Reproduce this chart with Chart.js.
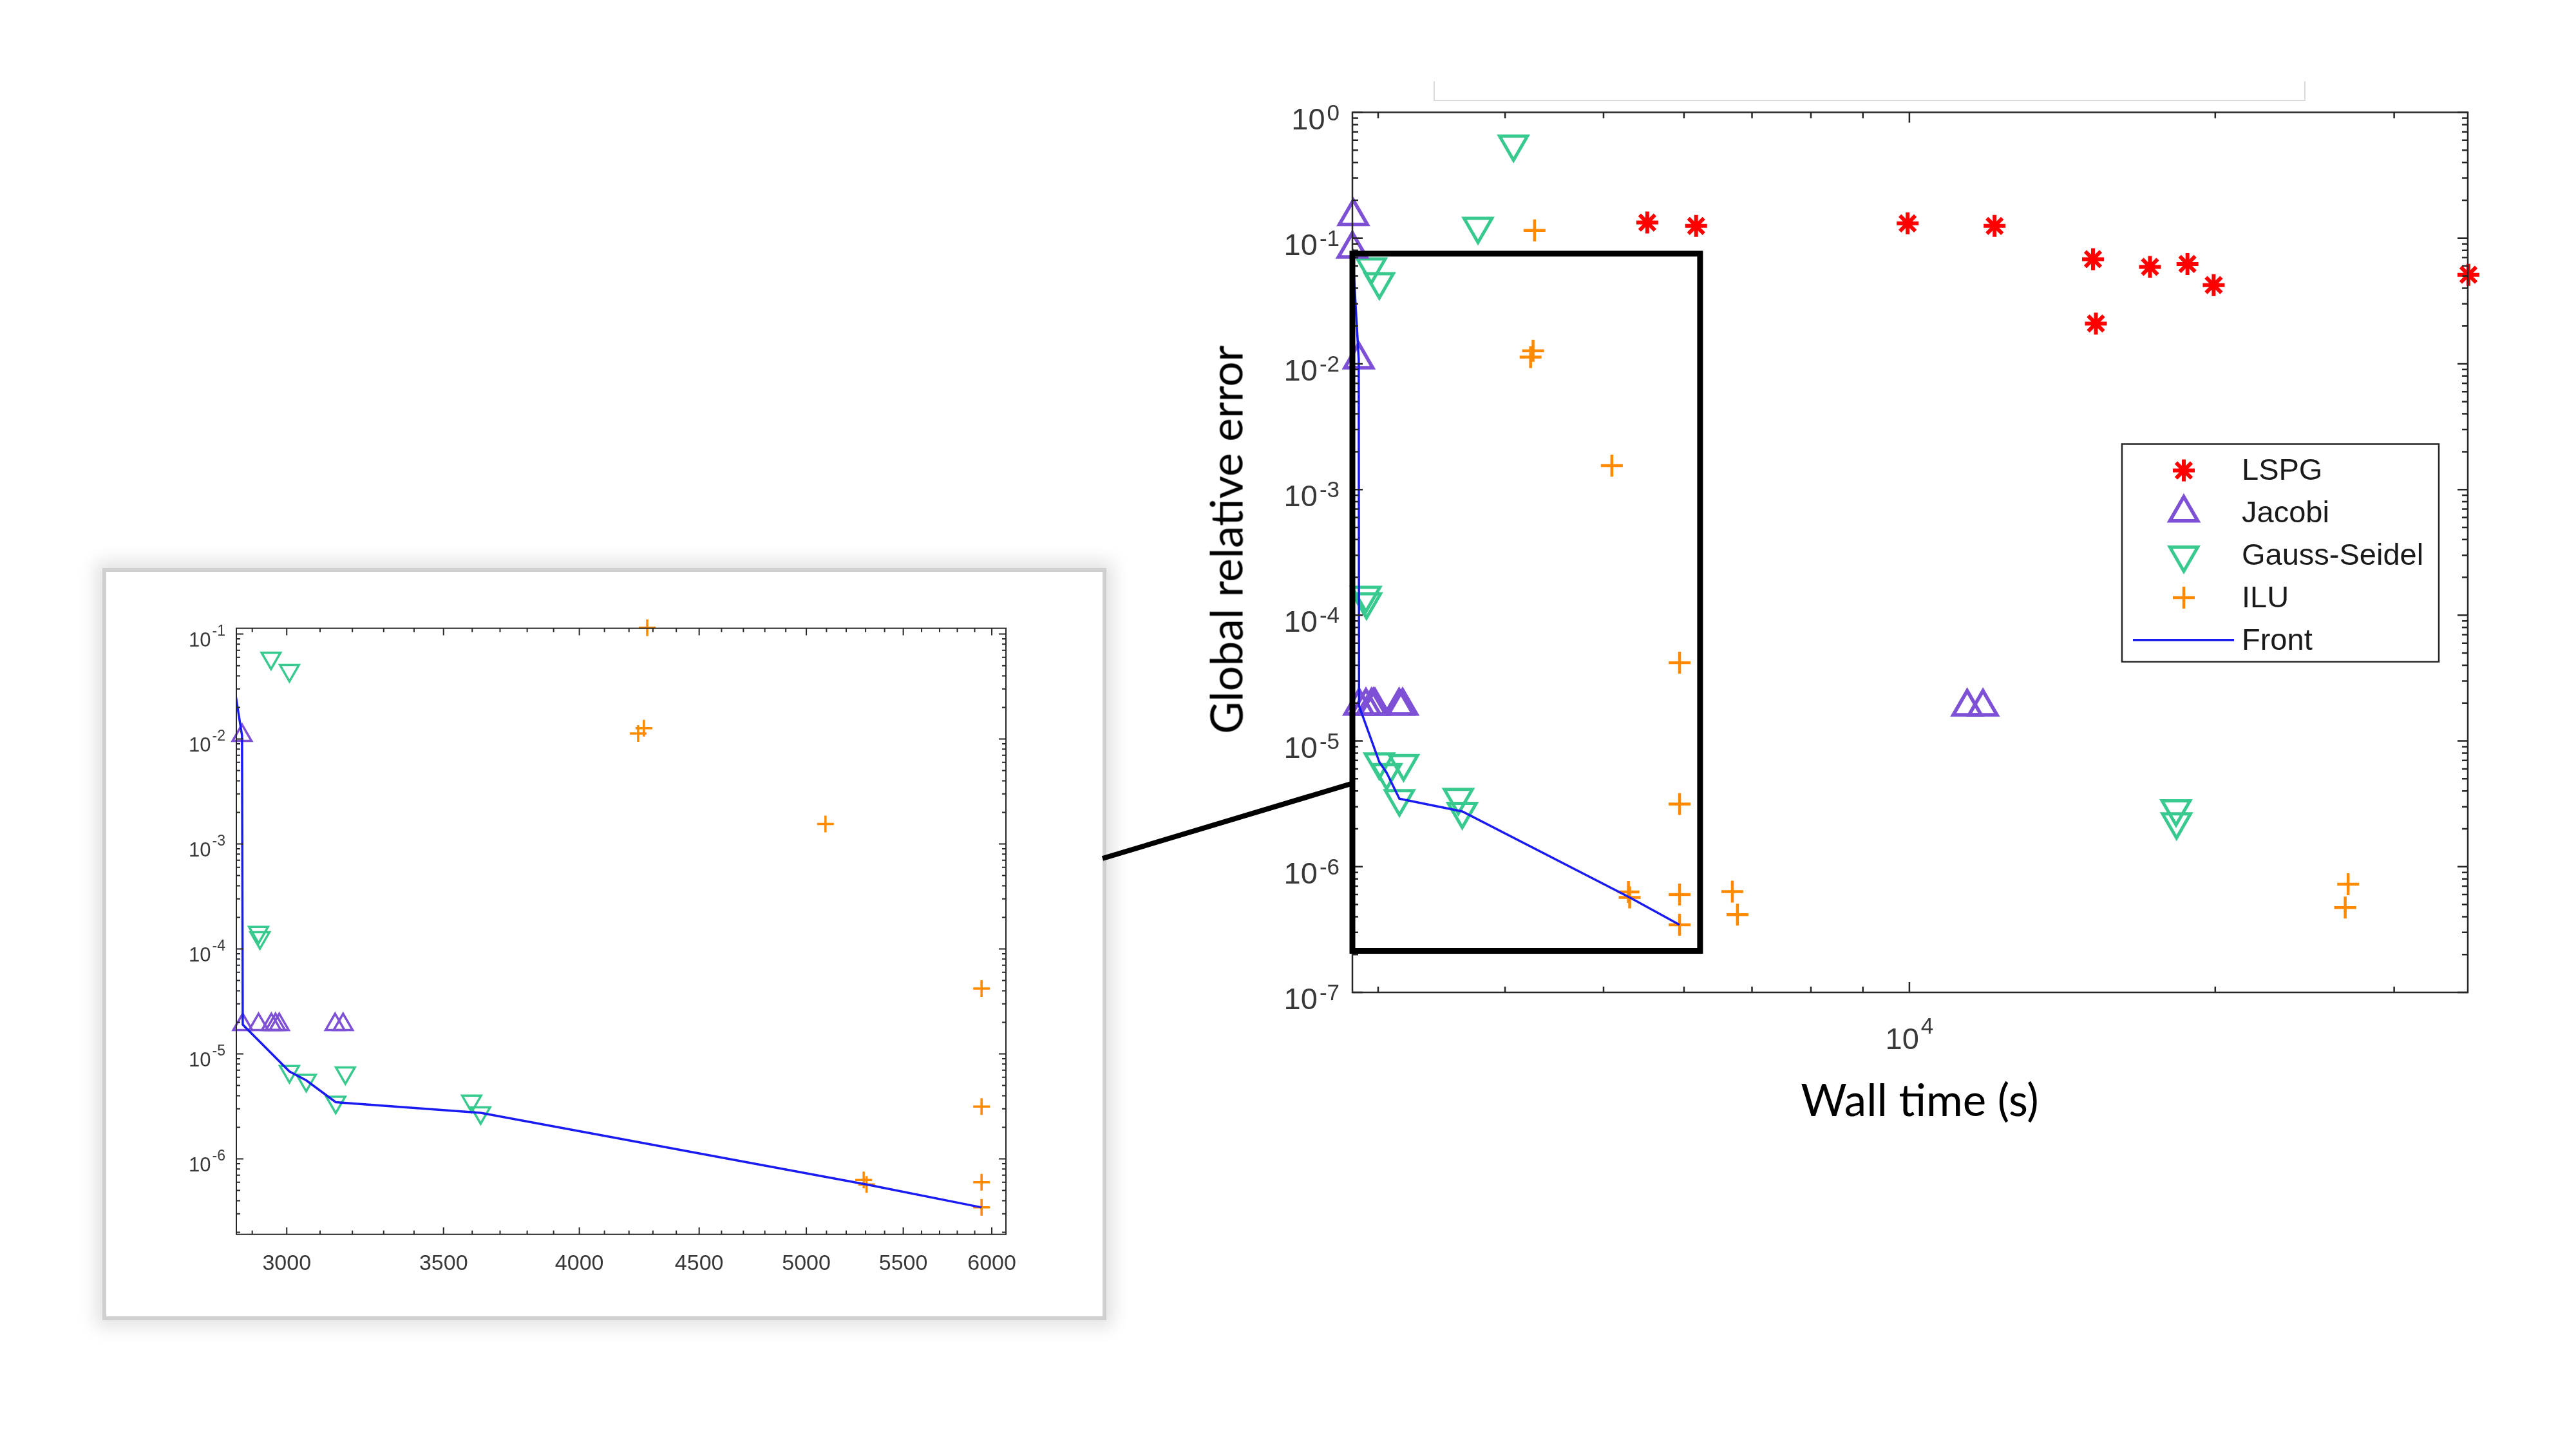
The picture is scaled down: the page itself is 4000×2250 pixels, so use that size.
<!DOCTYPE html>
<html>
<head>
<meta charset="utf-8">
<title>Global relative error vs wall time</title>
<script src="https://cdn.jsdelivr.net/npm/chart.js@4.4.1/dist/chart.umd.min.js"></script>
<style>
  html, body { margin: 0; padding: 0; background: #ffffff; }
  body { position: relative; width: 4000px; height: 2250px; overflow: hidden; }
  canvas { display: block; }
  #mainChart { position: absolute; left: 1800px; top: 60px; }
  #insetPanel {
    position: absolute; left: 165px; top: 888px; width: 1547px; height: 1156px;
    background: #ffffff;
    box-shadow: 0 0 0 6px #d0d0d0, 0 0 26px 16px rgba(0, 0, 0, 0.12);
  }
  #insetChart { position: absolute; left: 0; top: 0; }
  #topBracket {
    position: absolute; left: 2226px; top: 126px; width: 1350px; height: 29px;
    border: 2px solid #dadada; border-top: none;
  }
  .axisTitle {
    position: absolute; font-family: Lato, "Open Sans", sans-serif; font-size: 69px;
    color: #000; white-space: nowrap; line-height: 1;
  }
  #xTitle { left: 2981px; top: 1706px; transform: translate(-50%, -50%); }
  #yTitle { left: 1903px; top: 838px; transform: translate(-50%, -50%) rotate(-90deg); }
  #connector { position: absolute; left: 0; top: 0; pointer-events: none; }
</style>
</head>
<body>
<div id="topBracket"></div>
<div id="insetPanel"><canvas id="insetChart" width="1547" height="1156"></canvas></div>
<svg id="connector" width="4000" height="2250"><line x1="1712" y1="1333" x2="2098" y2="1217" stroke="#000" stroke-width="8"/></svg>
<canvas id="mainChart" width="2150" height="1620"></canvas>
<div class="axisTitle" id="yTitle">Global relative error</div>
<div class="axisTitle" id="xTitle">Wall time (s)</div>
<script>
// values (wall time in s, global relative error)
const seriesNames = ['LSPG', 'Jacobi', 'Gauss-Seidel', 'ILU', 'Front'];

const lspgTime  = [5521, 6167, 9960, 12130, 15160, 15260, 17250, 18780, 19930, 35500];
const lspgError = [0.133, 0.125, 0.131, 0.125, 0.068, 0.0209, 0.059, 0.0622, 0.0423, 0.0511];

const jacobiTime  = [2830, 2836, 2871, 2873, 2918, 2955, 2967, 2978, 3146, 3171, 11400, 11815];
const jacobiError = [0.082, 0.149, 0.0108, 1.9e-5, 1.9e-5, 1.9e-5, 1.9e-5, 1.9e-5, 1.9e-5, 1.9e-5, 1.87e-5, 1.87e-5];

const gsTime  = [2954, 3008, 2918, 2922, 3008, 3058, 3178, 3148, 3598, 3630, 3762, 4077, 18300, 18320];
const gsError = [0.059, 0.045, 1.44e-4, 1.28e-4, 6.8e-6, 5.6e-6, 6.6e-6, 3.47e-6, 3.55e-6, 2.75e-6, 0.124, 0.56, 2.88e-6, 2.27e-6];

const iluTime  = [4276, 4238, 4262, 5095, 5290, 5305, 5940, 5940, 5940, 5940, 6695, 6773, 27030, 26850];
const iluError = [0.115, 0.0113, 0.0127, 1.55e-3, 6.3e-7, 5.7e-7, 4.2e-5, 3.15e-6, 6.0e-7, 3.45e-7, 6.34e-7, 4.16e-7, 7.26e-7, 4.73e-7];

const frontTime  = [2830, 2871, 2873, 3008, 3058, 3148, 3630, 5305, 5940];
const frontError = [0.082, 0.0108, 1.9e-5, 6.8e-6, 5.6e-6, 3.47e-6, 2.75e-6, 5.7e-7, 3.45e-7];

// axes
const mainXRange = [2830, 35450];
const mainYRange = [1e-7, 1];
const mainXTicks = [10000];
const mainXTickLabels = ['10^4'];
const mainXMinorTicks = [3000, 4000, 5000, 6000, 7000, 8000, 9000, 20000, 30000];
const mainYTicks = [1, 1e-1, 1e-2, 1e-3, 1e-4, 1e-5, 1e-6, 1e-7];
const mainYTickLabels = ['10^0', '10^-1', '10^-2', '10^-3', '10^-4', '10^-5', '10^-6', '10^-7'];

const insetXRange = [2855, 6084];
const insetYRange = [1.91e-7, 0.1135];
const insetXTicks = [3000, 3500, 4000, 4500, 5000, 5500, 6000];
const insetXTickLabels = ['3000', '3500', '4000', '4500', '5000', '5500', '6000'];
const insetYTicks = [1e-1, 1e-2, 1e-3, 1e-4, 1e-5, 1e-6];
const insetYTickLabels = ['10^-1', '10^-2', '10^-3', '10^-4', '10^-5', '10^-6'];

// zoomed region marked on the main plot
const zoomBoxTime = [2830, 6223];
const zoomBoxError = [2.14e-7, 0.0752];

// marker looks (main plot / inset sizes)
const seriesLook = {
  'LSPG':         { color: '#ff0000', pointStyle: 'star',     rotation: 0,   radius: 17, width: 6,   insetRadius: 12, insetWidth: 4 },
  'Jacobi':       { color: '#7d50d6', pointStyle: 'triangle', rotation: 0,   radius: 25, width: 5.5, insetRadius: 17, insetWidth: 3.5 },
  'Gauss-Seidel': { color: '#38c98e', pointStyle: 'triangle', rotation: 180, radius: 25, width: 5,   insetRadius: 17, insetWidth: 3.5 },
  'ILU':          { color: '#ff8a00', pointStyle: 'cross',    rotation: 0,   radius: 17, width: 4.5, insetRadius: 13, insetWidth: 3.5 },
  'Front':        { color: '#1a1af2', width: 3.5, insetWidth: 3.5 }
};

function pts(xs, ys) {
  return xs.map((x, i) => ({ x: x, y: ys[i] }));
}

function logMinors(range) {
  const out = [];
  for (let d = Math.floor(Math.log10(range[0])); d <= Math.ceil(Math.log10(range[1])); d++) {
    for (let k = 2; k <= 9; k++) {
      const v = k * Math.pow(10, d);
      if (v >= range[0] && v <= range[1]) out.push(v);
    }
  }
  return out;
}

function buildDatasets(inset, xr, yr) {
  const keep = p => !inset || (p.x >= xr[0] * 0.998 && p.x <= xr[1] * 1.002 && p.y >= yr[0] * 0.97 && p.y <= yr[1] * 1.03);
  const scatter = (name, xs, ys, order) => {
    const s = seriesLook[name];
    return {
      label: name,
      order: order,
      data: pts(xs, ys).filter(keep),
      showLine: false,
      clip: false,
      pointStyle: s.pointStyle,
      pointRotation: s.rotation,
      pointRadius: inset ? s.insetRadius : s.radius,
      pointBorderWidth: inset ? s.insetWidth : s.width,
      pointBorderColor: s.color,
      borderColor: s.color,
      pointBackgroundColor: 'rgba(0,0,0,0)',
      backgroundColor: 'rgba(0,0,0,0)'
    };
  };
  const f = seriesLook['Front'];
  return [
    scatter('LSPG', lspgTime, lspgError, 1),
    scatter('Jacobi', jacobiTime, jacobiError, 2),
    scatter('Gauss-Seidel', gsTime, gsError, 3),
    scatter('ILU', iluTime, iluError, 4),
    {
      label: 'Front',
      order: 0,
      data: pts(frontTime, frontError),
      showLine: true,
      borderColor: f.color,
      borderWidth: inset ? f.insetWidth : f.width,
      pointRadius: 0,
      tension: 0,
      fill: false
    }
  ];
}

function drawTickLabel(ctx, x, y, text, f, align) {
  const parts = text.split('^');
  ctx.textAlign = 'left';
  ctx.textBaseline = 'alphabetic';
  ctx.font = f.base;
  const wb = ctx.measureText(parts[0]).width;
  let ws = 0;
  if (parts[1]) {
    ctx.font = f.sup;
    ws = f.gap + ctx.measureText(parts[1]).width;
  }
  const x0 = align === 'right' ? x - wb - ws : x - (wb + ws) / 2;
  ctx.font = f.base;
  ctx.fillText(parts[0], x0, y);
  if (parts[1]) {
    ctx.font = f.sup;
    ctx.fillText(parts[1], x0 + wb + f.gap, y - f.rise);
  }
}

function drawMarker(ctx, s, x, y) {
  ctx.save();
  ctx.strokeStyle = s.color;
  ctx.fillStyle = 'rgba(0,0,0,0)';
  ctx.lineWidth = s.width;
  if (Chart.helpers && Chart.helpers.drawPoint) {
    Chart.helpers.drawPoint(ctx, { pointStyle: s.pointStyle, rotation: s.rotation, radius: s.radius, borderWidth: s.width }, x, y);
  } else {
    const r = s.radius;
    ctx.beginPath();
    if (s.pointStyle === 'triangle') {
      let rad = s.rotation * Math.PI / 180;
      for (let i = 0; i < 3; i++) {
        const px = x + Math.sin(rad) * r, py = y - Math.cos(rad) * r;
        if (i === 0) ctx.moveTo(px, py); else ctx.lineTo(px, py);
        rad += 2 * Math.PI / 3;
      }
      ctx.closePath();
    } else {
      const n = s.pointStyle === 'star' ? 4 : 2;
      for (let i = 0; i < n; i++) {
        const a = i * Math.PI / n;
        ctx.moveTo(x - Math.cos(a) * r, y - Math.sin(a) * r);
        ctx.lineTo(x + Math.cos(a) * r, y + Math.sin(a) * r);
      }
    }
    ctx.stroke();
  }
  ctx.restore();
}

function axesPlugin(c) {
  return {
    id: 'axes-' + c.id,
    afterDraw(chart) {
      const ctx = chart.ctx, a = chart.chartArea;
      const sx = chart.scales.x, sy = chart.scales.y;
      ctx.save();
      ctx.strokeStyle = c.axisColor;
      ctx.lineWidth = c.axisWidth;
      ctx.beginPath();
      const xt = (v, len) => {
        const p = sx.getPixelForValue(v);
        ctx.moveTo(p, a.bottom); ctx.lineTo(p, a.bottom - len);
        ctx.moveTo(p, a.top); ctx.lineTo(p, a.top + len);
      };
      const yt = (v, len) => {
        const p = sy.getPixelForValue(v);
        ctx.moveTo(a.left, p); ctx.lineTo(a.left + len, p);
        ctx.moveTo(a.right, p); ctx.lineTo(a.right - len, p);
      };
      c.xTicks.forEach(v => xt(v, c.majorLen));
      c.xMinor.forEach(v => xt(v, c.minorLen));
      c.yTicks.forEach(v => yt(v, c.majorLen));
      c.yMinor.forEach(v => yt(v, c.minorLen));
      ctx.stroke();
      ctx.strokeRect(a.left, a.top, a.right - a.left, a.bottom - a.top);

      ctx.fillStyle = c.labelColor;
      c.xTicks.forEach((v, i) => drawTickLabel(ctx, sx.getPixelForValue(v), a.bottom + c.xLabel.dy, c.xTickLabels[i], c.xLabel, 'center'));
      c.yTicks.forEach((v, i) => drawTickLabel(ctx, a.left - c.yLabel.dx, sy.getPixelForValue(v) + c.yLabel.dy, c.yTickLabels[i], c.yLabel, 'right'));

      if (c.zoomBox) {
        const x0 = sx.getPixelForValue(zoomBoxTime[0]), x1 = sx.getPixelForValue(zoomBoxTime[1]);
        const y0 = sy.getPixelForValue(zoomBoxError[1]), y1 = sy.getPixelForValue(zoomBoxError[0]);
        ctx.strokeStyle = '#000';
        ctx.lineWidth = 9;
        ctx.strokeRect(x0, y0, x1 - x0, y1 - y0);
      }
      ctx.restore();
    }
  };
}

const boxLegend = {
  id: 'boxLegend',
  afterDraw(chart) {
    const ctx = chart.ctx, a = chart.chartArea;
    const L = a.right - 537, T = a.top + 515, W = 492, H = 338;
    ctx.save();
    ctx.fillStyle = '#ffffff';
    ctx.fillRect(L, T, W, H);
    ctx.strokeStyle = '#262626';
    ctx.lineWidth = 2.5;
    ctx.strokeRect(L, T, W, H);
    ctx.font = '47px "Liberation Sans", Arial, sans-serif';
    ctx.textAlign = 'left';
    ctx.textBaseline = 'middle';
    seriesNames.forEach((name, i) => {
      const y = T + 41 + i * 65.8;
      const s = seriesLook[name];
      if (name === 'Front') {
        ctx.strokeStyle = s.color;
        ctx.lineWidth = s.width;
        ctx.beginPath();
        ctx.moveTo(L + 17, y);
        ctx.lineTo(L + 174, y);
        ctx.stroke();
      } else {
        drawMarker(ctx, s, L + 96, y);
      }
      ctx.fillStyle = '#1a1a1a';
      ctx.fillText(name, L + 186, y + 2);
    });
    ctx.restore();
  }
};

function makeChart(canvasId, cfg) {
  return new Chart(document.getElementById(canvasId), {
    type: 'scatter',
    data: { datasets: cfg.datasets },
    options: {
      responsive: false,
      animation: false,
      devicePixelRatio: 1,
      events: [],
      layout: { padding: cfg.padding },
      plugins: { legend: { display: false }, tooltip: { enabled: false } },
      scales: {
        x: {
          type: 'logarithmic', min: cfg.xr[0], max: cfg.xr[1],
          grid: { display: false }, border: { display: false }, ticks: { display: false },
          afterFit: s => { s.height = 0; }
        },
        y: {
          type: 'logarithmic', min: cfg.yr[0], max: cfg.yr[1],
          grid: { display: false }, border: { display: false }, ticks: { display: false },
          afterFit: s => { s.width = 0; }
        }
      }
    },
    plugins: cfg.plugins
  });
}

const mainFont = '"Liberation Sans", Arial, sans-serif';

makeChart('mainChart', {
  datasets: buildDatasets(false),
  xr: mainXRange,
  yr: mainYRange,
  padding: { left: 300, top: 114.5, right: 118, bottom: 139 },
  plugins: [
    axesPlugin({
      id: 'main', zoomBox: true,
      axisColor: '#262626', axisWidth: 2.5, majorLen: 16, minorLen: 9, labelColor: '#383838',
      xTicks: mainXTicks, xTickLabels: mainXTickLabels, xMinor: mainXMinorTicks,
      yTicks: mainYTicks, yTickLabels: mainYTickLabels, yMinor: logMinors(mainYRange),
      xLabel: { base: '47px ' + mainFont, sup: '35px ' + mainFont, gap: 3, rise: 24, dy: 88 },
      yLabel: { base: '47px ' + mainFont, sup: '35px ' + mainFont, gap: 3, rise: 14, dx: 20, dy: 26 }
    }),
    boxLegend
  ]
});

const insetMinorX = [];
for (let v = 2900; v <= 6000; v += 100) {
  if (insetXTicks.indexOf(v) < 0) insetMinorX.push(v);
}

makeChart('insetChart', {
  datasets: buildDatasets(true, insetXRange, insetYRange),
  xr: insetXRange,
  yr: insetYRange,
  padding: { left: 202, top: 87.6, right: 150, bottom: 127.3 },
  plugins: [
    axesPlugin({
      id: 'inset', zoomBox: false,
      axisColor: '#262626', axisWidth: 2, majorLen: 11, minorLen: 6, labelColor: '#383838',
      xTicks: insetXTicks, xTickLabels: insetXTickLabels, xMinor: insetMinorX,
      yTicks: insetYTicks, yTickLabels: insetYTickLabels, yMinor: logMinors(insetYRange),
      xLabel: { base: '34px ' + mainFont, sup: '24px ' + mainFont, gap: 2, rise: 16, dy: 55 },
      yLabel: { base: '31px ' + mainFont, sup: '23px ' + mainFont, gap: 2, rise: 17, dx: 17, dy: 19 }
    })
  ]
});
</script>
</body>
</html>
